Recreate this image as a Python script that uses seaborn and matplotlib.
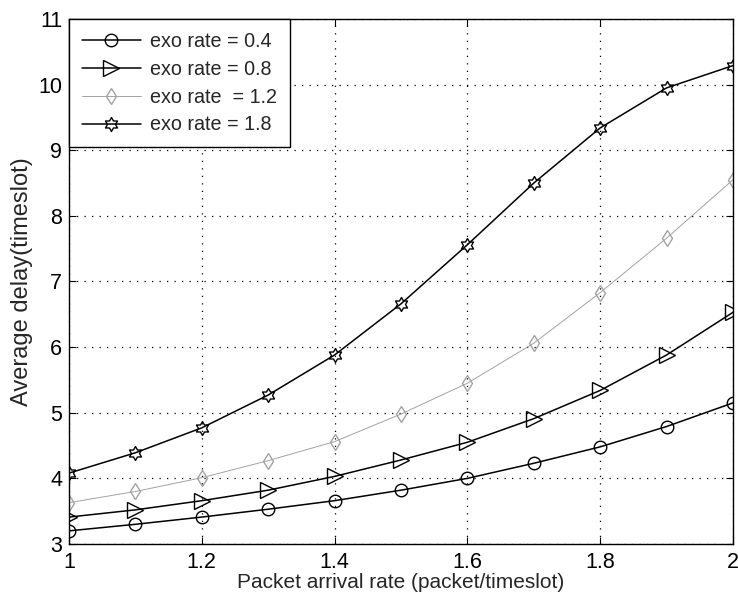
import numpy as np
import pandas as pd
import seaborn as sns
import matplotlib
matplotlib.use("Agg")
from matplotlib import pyplot as plt
from matplotlib.path import Path

# packet arrival rate (x) and average delay per exo rate
arrival_rate = [1.0, 1.1, 1.2, 1.3, 1.4, 1.5, 1.6, 1.7, 1.8, 1.9, 2.0]
delay_04 = [3.20, 3.30, 3.41, 3.53, 3.66, 3.82, 4.00, 4.23, 4.48, 4.79, 5.15]
delay_08 = [3.41, 3.52, 3.66, 3.82, 4.03, 4.28, 4.55, 4.91, 5.34, 5.88, 6.53]
delay_12 = [3.63, 3.80, 4.01, 4.27, 4.56, 4.98, 5.45, 6.06, 6.83, 7.66, 8.55]
delay_18 = [4.08, 4.39, 4.77, 5.27, 5.88, 6.66, 7.56, 8.50, 9.34, 9.95, 10.29]
series_labels = ["exo rate = 0.4", "exo rate = 0.8", "exo rate  = 1.2", "exo rate = 1.8"]


def hexagram():
    # six-pointed star like matlab's 'h' marker
    verts = []
    for k in range(6):
        a = np.deg2rad(90 + k * 60)
        verts.append((np.cos(a), np.sin(a)))
        b = np.deg2rad(120 + k * 60)
        verts.append((np.cos(b) / np.sqrt(3), np.sin(b) / np.sqrt(3)))
    verts.append(verts[0])
    codes = [Path.MOVETO] + [Path.LINETO] * 11 + [Path.CLOSEPOLY]
    return Path(verts, codes)


sns.set_theme(style="ticks")
plt.rcParams["font.family"] = ["Liberation Sans", "DejaVu Sans"]

df = pd.DataFrame({
    "rate": arrival_rate * 4,
    "delay": delay_04 + delay_08 + delay_12 + delay_18,
    "series": np.repeat(series_labels, len(arrival_rate)),
})

styles = {
    series_labels[0]: dict(color="black", marker="o", ms=9, lw=1.1),
    series_labels[1]: dict(color="black", marker=">", ms=11, lw=1.1),
    series_labels[2]: dict(color="#a3a3a3", marker="d", ms=8.5, lw=0.7),
    series_labels[3]: dict(color="black", marker=hexagram(), ms=10, lw=1.1),
}

fig = plt.figure(figsize=(7.38, 5.97), dpi=100)
ax = fig.add_axes([0.0935, 0.0888, 0.8997, 0.8794])

for name in series_labels:
    st = styles[name]
    sns.lineplot(
        data=df[df["series"] == name], x="rate", y="delay", ax=ax,
        color=st["color"], marker=st["marker"], markersize=st["ms"],
        linewidth=st["lw"], markerfacecolor="none",
        markeredgecolor=st["color"], markeredgewidth=1.0,
        label=name, errorbar=None,
    )

ax.set_xlim(1, 2)
ax.set_ylim(3, 11)
ax.set_xticks([1, 1.2, 1.4, 1.6, 1.8, 2])
ax.set_xticklabels(["1", "1.2", "1.4", "1.6", "1.8", "2"])
ax.set_yticks(range(3, 12))
ax.tick_params(direction="in", length=5, width=0.8, labelsize=15.5,
               top=True, right=True, colors="black")
ax.tick_params(axis="x", pad=6)
ax.tick_params(axis="y", pad=5)
ax.grid(True, color="black", linestyle=(0, (1, 5)), linewidth=0.9)
for sp in ax.spines.values():
    sp.set_color("black")
    sp.set_linewidth(1.0)

ax.set_xlabel("Packet arrival rate (packet/timeslot)", fontsize=15, labelpad=0)
ax.set_ylabel("Average delay(timeslot)", fontsize=17, labelpad=4)

leg = ax.legend(loc="upper left", bbox_to_anchor=(0, 1), borderaxespad=0,
                fontsize=14.2, handlelength=3.0, handletextpad=0.45,
                labelspacing=0.45, borderpad=0.65, fancybox=False,
                framealpha=1, edgecolor="black")
leg.get_frame().set_linewidth(1.0)

fig.savefig("out.png", dpi=100)
